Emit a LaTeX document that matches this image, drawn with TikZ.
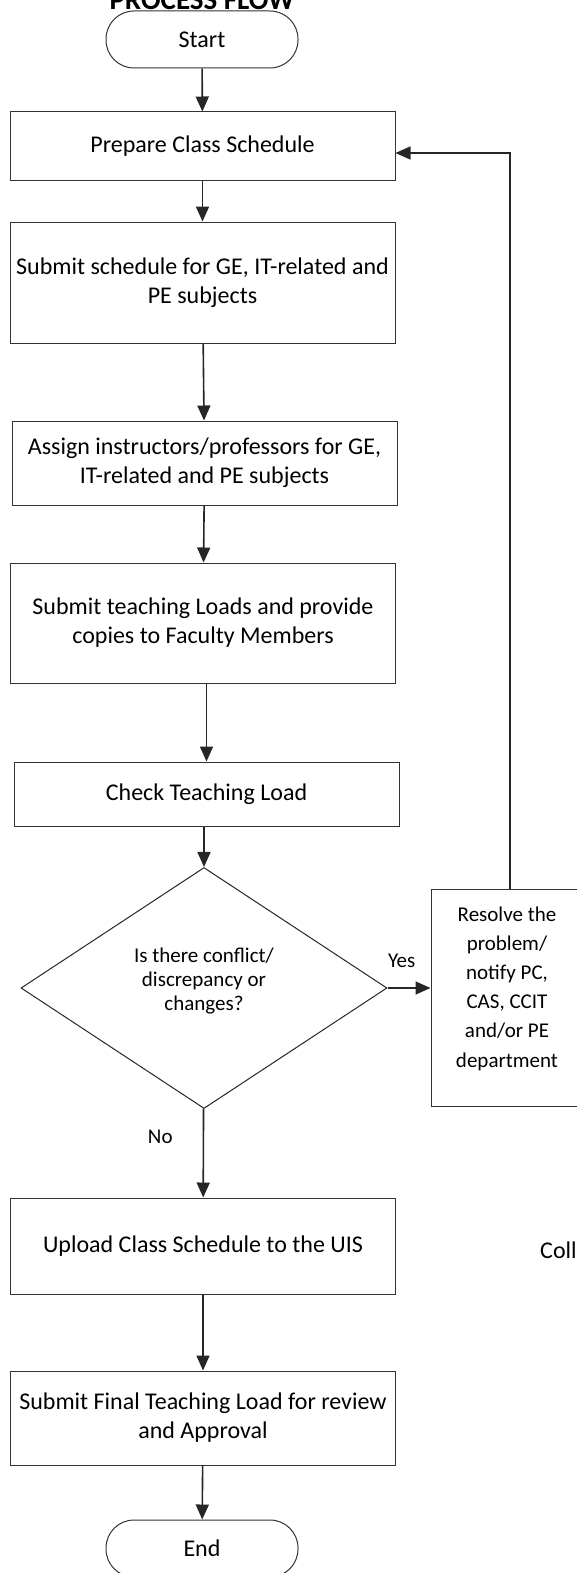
\documentclass[tikz,border=0pt]{standalone}
\usepackage{fontspec}
\setmainfont{Carlito}
\usetikzlibrary{shapes.geometric,arrows.meta}
\def\flowfont{\fontsize{24}{29}\selectfont}
\def\smallflowfont{\fontsize{21}{24}\selectfont}
\def\sidefont{\fontsize{21}{29.2}\selectfont}
\def\headfont{\fontsize{29}{32}\selectfont\bfseries}

\begin{document}
\begin{tikzpicture}[x=1pt,y=-1pt,
    every node/.style={font=\flowfont,align=center,inner sep=0pt},
    box/.style={draw=black!80,line width=1pt,minimum width=385pt},
    term/.style={draw=black!80,line width=1pt,minimum width=192pt,minimum height=57pt,rounded corners=28pt},
    decision/.style={draw=black!85,line width=1pt,diamond,minimum width=366pt,minimum height=241pt},
    flow/.style={draw=black!85,line width=1.6pt,-{Triangle[length=15pt,width=13pt]}}]
  \useasboundingbox (0,0) rectangle (576,1573);
  % title is cut by the top edge
  \node[font=\headfont,anchor=base] (title) at (202,10) {PROCESS FLOW};
  \node[term] (start) at (202,39.5) {Start};
  \node[box,minimum height=69pt] (prep) at (202.5,146.5) {Prepare Class Schedule};
  \node[box,minimum height=121pt] (subm) at (202.5,282.5) {Submit schedule for GE, IT-related and\\PE subjects};
  \node[box,minimum height=84pt] (assign) at (204.5,463) {Assign instructors/professors for GE,\\IT-related and PE subjects};
  \node[box,minimum height=120pt] (loads) at (203,623) {Submit teaching Loads and provide\\copies to Faculty Members};
  \node[box,minimum height=64pt] (check) at (206.5,794) {Check Teaching Load};
  \node[decision,label={[font=\smallflowfont,yshift=7pt]center:{Is there conflict/\\discrepancy or\\changes?}}] (dec) at (204,988) {};
  \node[box,minimum width=152pt,minimum height=217pt,
        label={[font=\sidefont,yshift=9pt]center:{Resolve the\\problem/\\notify PC,\\CAS, CCIT\\and/or PE\\department}}] (resolve) at (507,997.5) {};
  \node[box,minimum height=96pt] (upload) at (203,1246) {Upload Class Schedule to the UIS};
  \node[box,minimum height=94pt] (final) at (203,1418) {Submit Final Teaching Load for review\\and Approval};
  \node[term] (end) at (202,1548.5) {End};
  % text cut by the right edge
  \node[anchor=west] (coll) at (540,1250) {Coll};

  \draw[flow] (start) -- (prep);
  \draw[flow] (prep) -- (subm);
  \draw[flow] (subm) -- (assign);
  \draw[flow] (assign) -- (loads);
  \draw[flow] (loads.south -| check) -- (check);
  \draw[flow] (check.south -| dec) -- (dec);
  \draw[flow] (dec.east) -- node[font=\smallflowfont,pos=.33,above=20pt] {Yes} (dec.east -| resolve.west);
  \draw[flow] (dec) -- node[font=\smallflowfont,pos=.32,left=30pt] {No} (upload);
  \draw[flow] (upload) -- (final);
  \draw[flow] (final) -- (end);
  % back to the start of the loop
  \coordinate (corner) at (510,153);
  \draw[flow] (resolve.north -| corner) -- (corner) -- (corner -| prep.east);
\end{tikzpicture}
\end{document}
